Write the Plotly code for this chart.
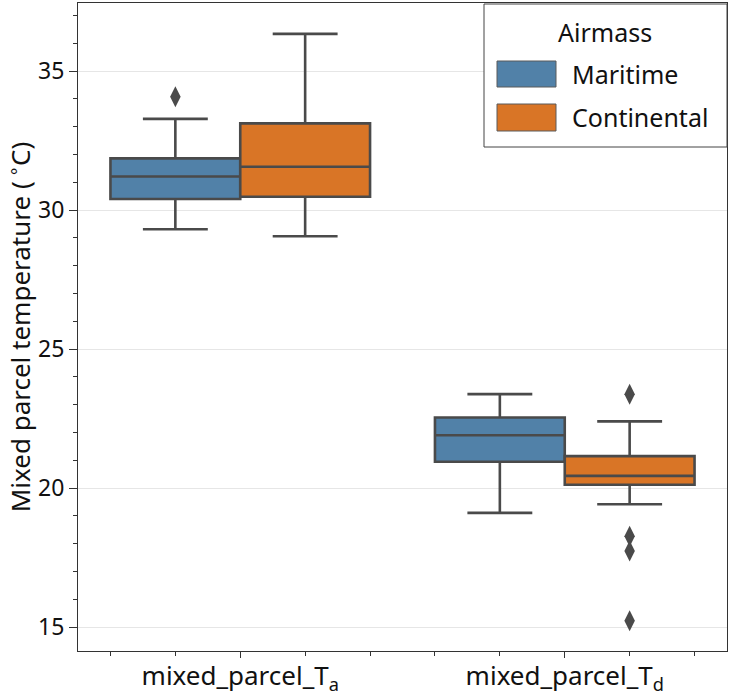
import plotly.graph_objects as go

# Categories on the x axis (numeric positions 0 and 1)
categories = ["mixed_parcel_T<sub>a</sub>", "mixed_parcel_T<sub>d</sub>"]
cat_pos = [0, 1]

# Box statistics per air mass (one value per category)
maritime_lo = [29.31, 19.11]
maritime_q1 = [30.40, 20.95]
maritime_med = [31.21, 21.90]
maritime_q3 = [31.86, 22.54]
maritime_hi = [33.28, 23.38]
maritime_outliers = [[34.08], []]

continental_lo = [29.06, 19.42]
continental_q1 = [30.48, 20.12]
continental_med = [31.56, 20.44]
continental_q3 = [33.12, 21.15]
continental_hi = [36.34, 22.40]
continental_outliers = [[], [23.38, 18.27, 17.74, 15.23]]

hue_names = ["Maritime", "Continental"]
hue_colors = ["#5181a8", "#d97526"]
edge = "#4a4a4a"
box_w = 0.4
font_family = "Noto Sans, Lato, sans-serif"

W, H = 731, 696
M_L, M_R, M_T, M_B = 78, 4, 3, 45
PW, PH = W - M_L - M_R, H - M_T - M_B


def px(x):
    return (x - M_L) / PW


def py(y):
    return (H - M_B - y) / PH


fig = go.Figure()

series = [
    (maritime_lo, maritime_q1, maritime_med, maritime_q3, maritime_hi, maritime_outliers),
    (continental_lo, continental_q1, continental_med, continental_q3, continental_hi, continental_outliers),
]

for k, (lo, q1, med, q3, hi, outl) in enumerate(series):
    offset = -box_w / 2 if k == 0 else box_w / 2
    xs = [p + offset for p in cat_pos]
    fig.add_trace(go.Box(
        x=xs, q1=q1, median=med, q3=q3, lowerfence=lo, upperfence=hi,
        name=hue_names[k], width=box_w, whiskerwidth=0.5,
        fillcolor=hue_colors[k], line=dict(color=edge, width=2.6),
        boxpoints=False, hoverinfo="skip", showlegend=False,
    ))
    ox, oy = [], []
    for p, vals in zip(xs, outl):
        for v in vals:
            ox.append(p)
            oy.append(v)
    fig.add_trace(go.Scatter(
        x=ox, y=oy, mode="markers", showlegend=False,
        marker=dict(symbol="diamond-tall", size=15, color=edge, line=dict(width=0)),
        hoverinfo="skip",
    ))

# Legend drawn as a framed key in the upper-right corner
shapes = [dict(type="rect", xref="paper", yref="paper",
               x0=px(484), x1=px(727), y0=py(147), y1=py(4),
               line=dict(color="#444444", width=1), fillcolor="white", layer="above")]
annotations = [dict(text="Airmass", xref="paper", yref="paper", x=px(605), y=py(32),
                    xanchor="center", yanchor="middle", showarrow=False,
                    font=dict(size=25, color="#111111"))]
row_y = [(61, 87), (104, 131)]
for name, color, (ya, yb) in zip(hue_names, hue_colors, row_y):
    shapes.append(dict(type="rect", xref="paper", yref="paper",
                       x0=px(497), x1=px(556), y0=py(yb), y1=py(ya),
                       line=dict(color="#5a5a5a", width=1), fillcolor=color, layer="above"))
    annotations.append(dict(text=name, xref="paper", yref="paper", x=px(570), y=py((ya + yb) / 2),
                            xanchor="left", yanchor="middle", showarrow=False,
                            font=dict(size=25, color="#111111")))

axis_col = "#333333"
fig.update_layout(
    width=W, height=H,
    margin=dict(l=M_L, r=M_R, t=M_T, b=M_B, autoexpand=False),
    plot_bgcolor="white", paper_bgcolor="white",
    boxmode="overlay",
    font=dict(family=font_family, size=24, color="#111111"),
    showlegend=False,
    shapes=shapes, annotations=annotations,
    xaxis=dict(
        range=[-0.5, 1.5], tickmode="array", tickvals=cat_pos, ticktext=categories,
        ticks="outside", ticklen=6, tickcolor=axis_col, tickwidth=1,
        tickfont=dict(size=26), automargin=False, ticklabelstandoff=-4,
        showline=True, linecolor=axis_col, linewidth=1, mirror=True,
        showgrid=False, zeroline=False,
        minor=dict(tickmode="linear", tick0=0, dtick=0.2, ticks="outside",
                   ticklen=4, tickcolor=axis_col, showgrid=False),
    ),
    yaxis=dict(
        range=[14.14, 37.45], tickmode="linear", tick0=15, dtick=5,
        ticks="outside", ticklen=8, tickcolor=axis_col, tickwidth=1,
        tickfont=dict(size=23), automargin=True,
        showline=True, linecolor=axis_col, linewidth=1, mirror=True,
        showgrid=True, gridcolor="#e6e6e6", gridwidth=1, zeroline=False,
        title=dict(text="Mixed parcel temperature (\u2009<sup>∘</sup>C)", standoff=4,
                   font=dict(size=26)),
        minor=dict(tickmode="linear", tick0=15, dtick=1, ticks="outside",
                   ticklen=4, tickcolor=axis_col, showgrid=False),
    ),
)

fig.write_html("out.html")
